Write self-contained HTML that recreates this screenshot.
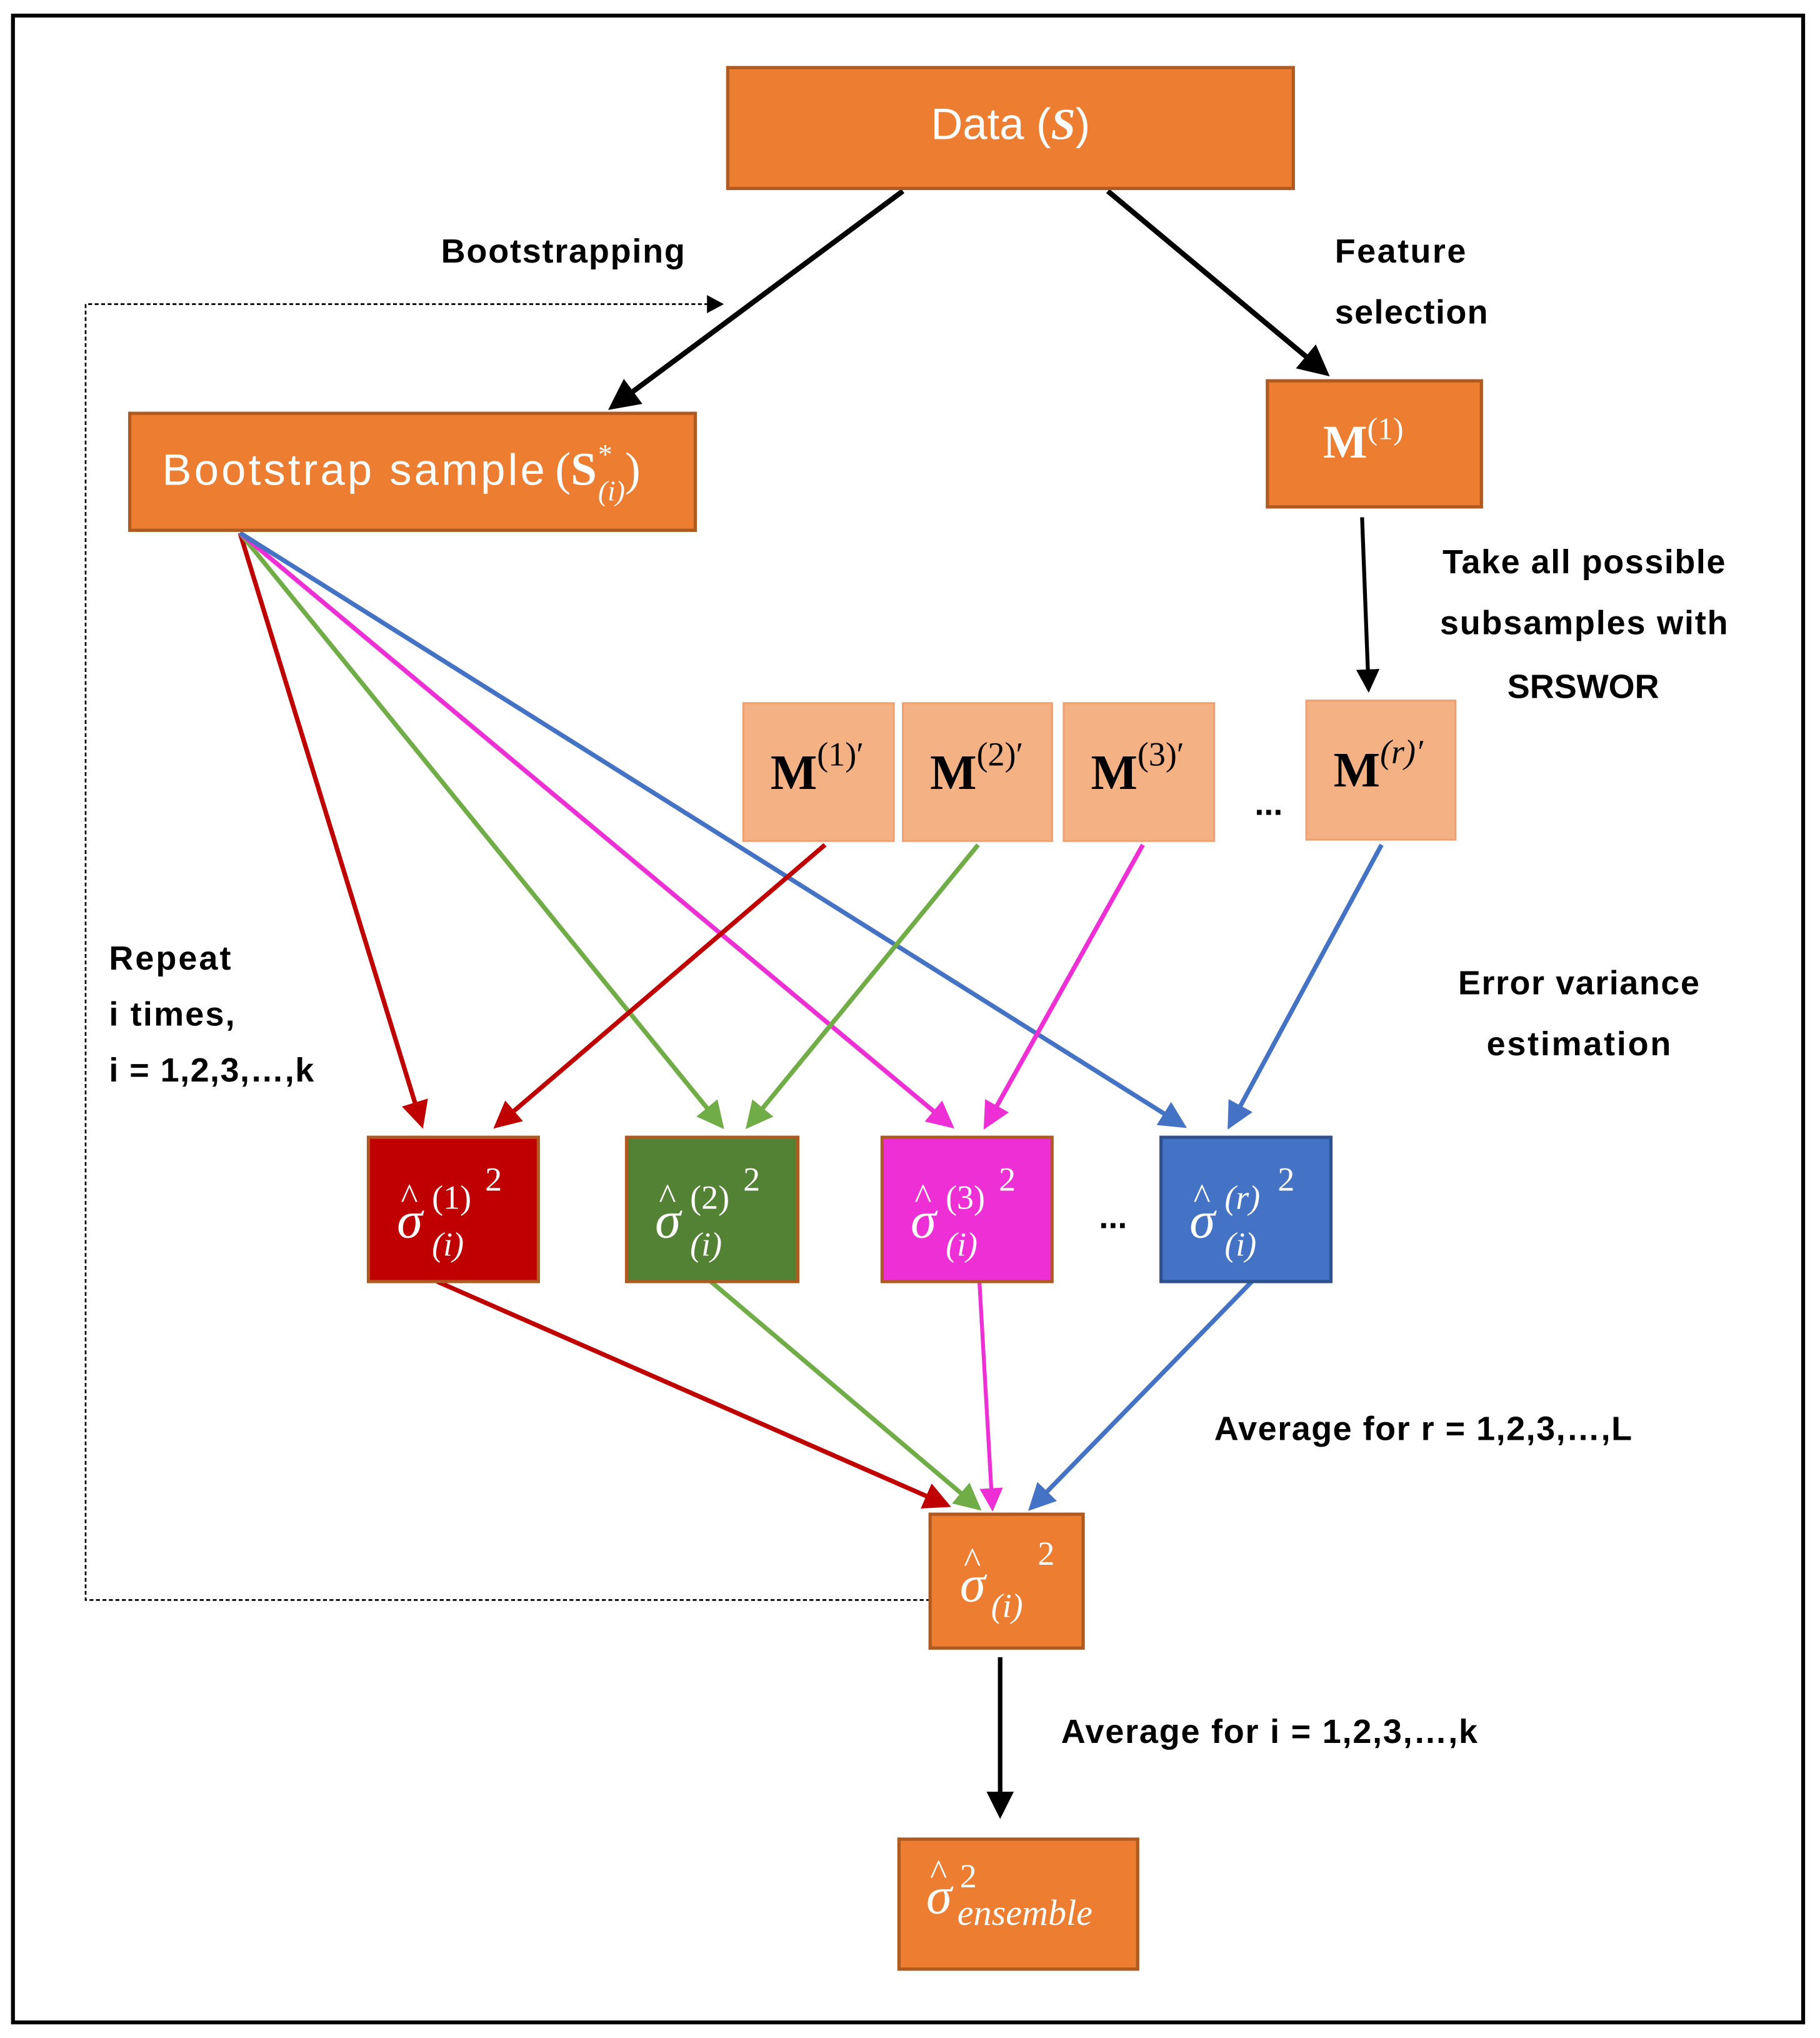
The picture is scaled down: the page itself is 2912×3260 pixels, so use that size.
<!DOCTYPE html>
<html><head><meta charset="utf-8"><style>
html,body{margin:0;padding:0;background:#fff}
svg{display:block}
.lb{font-family:"Liberation Sans",sans-serif;font-weight:bold;font-size:26px;fill:#000}
.w{fill:#fff}
.m{font-family:"Liberation Serif",serif}
</style></head><body>
<svg width="2912" height="3260" viewBox="0 0 1403 1568" preserveAspectRatio="none" xmlns="http://www.w3.org/2000/svg">
<defs>
<marker id="ak" markerWidth="6" markerHeight="6" refX="5" refY="3" orient="auto" markerUnits="strokeWidth"><path d="M0,0 L6,3 L0,6 z" fill="#000"/></marker>
<marker id="ar" markerWidth="6" markerHeight="6" refX="5" refY="3" orient="auto" markerUnits="strokeWidth"><path d="M0,0 L6,3 L0,6 z" fill="#C00000"/></marker>
<marker id="ag" markerWidth="6" markerHeight="6" refX="5" refY="3" orient="auto" markerUnits="strokeWidth"><path d="M0,0 L6,3 L0,6 z" fill="#70AD47"/></marker>
<marker id="am" markerWidth="6" markerHeight="6" refX="5" refY="3" orient="auto" markerUnits="strokeWidth"><path d="M0,0 L6,3 L0,6 z" fill="#EE2FD6"/></marker>
<marker id="ab" markerWidth="6" markerHeight="6" refX="5" refY="3" orient="auto" markerUnits="strokeWidth"><path d="M0,0 L6,3 L0,6 z" fill="#4472C4"/></marker>
</defs>
<rect x="10" y="12" width="1380" height="1544" fill="#fff" stroke="#000" stroke-width="3"/>

<path d="M717,1231 L66,1231 L66,234 L550,234" fill="none" stroke="#000" stroke-width="1.3" stroke-dasharray="3,2"/>
<path d="M545,227 L558,234 L545,241 z" fill="#000"/>

<line x1="696" y1="147" x2="472" y2="313" stroke="#000" stroke-width="4" marker-end="url(#ak)"/>
<line x1="854" y1="147" x2="1022" y2="287" stroke="#000" stroke-width="4" marker-end="url(#ak)"/>
<line x1="1050" y1="398" x2="1055" y2="530" stroke="#000" stroke-width="3" marker-end="url(#ak)"/>
<line x1="771" y1="1275" x2="771" y2="1396" stroke="#000" stroke-width="3.5" marker-end="url(#ak)"/>

<line x1="185" y1="410" x2="325" y2="865" stroke="#C00000" stroke-width="3.5" marker-end="url(#ar)"/>
<line x1="185" y1="410" x2="556" y2="866" stroke="#70AD47" stroke-width="3.5" marker-end="url(#ag)"/>
<line x1="185" y1="410" x2="733" y2="866" stroke="#EE2FD6" stroke-width="3.5" marker-end="url(#am)"/>
<line x1="185" y1="410" x2="912" y2="866" stroke="#4472C4" stroke-width="3.5" marker-end="url(#ab)"/>
<line x1="636" y1="650" x2="383" y2="866" stroke="#C00000" stroke-width="3.5" marker-end="url(#ar)"/>
<line x1="754" y1="650" x2="577" y2="866" stroke="#70AD47" stroke-width="3.5" marker-end="url(#ag)"/>
<line x1="881" y1="650" x2="760" y2="866" stroke="#EE2FD6" stroke-width="3.5" marker-end="url(#am)"/>
<line x1="1065" y1="650" x2="948" y2="866" stroke="#4472C4" stroke-width="3.5" marker-end="url(#ab)"/>
<line x1="337" y1="986" x2="730" y2="1158" stroke="#C00000" stroke-width="3.5" marker-end="url(#ar)"/>
<line x1="548" y1="986" x2="754" y2="1160" stroke="#70AD47" stroke-width="3.5" marker-end="url(#ag)"/>
<line x1="755" y1="986" x2="765" y2="1160" stroke="#EE2FD6" stroke-width="3" marker-end="url(#am)"/>
<line x1="965" y1="986" x2="795" y2="1160" stroke="#4472C4" stroke-width="3.5" marker-end="url(#ab)"/>

<rect x="561" y="52" width="436" height="93" fill="#ED7D31" stroke="#AE5A21" stroke-width="2.5"/>
<text x="779" y="107" text-anchor="middle" class="w" font-family="Liberation Sans,sans-serif" font-size="34">Data (<tspan class="m" font-style="italic" font-weight="bold">S</tspan>)</text>

<rect x="100" y="318" width="436" height="90" fill="#ED7D31" stroke="#AE5A21" stroke-width="2.5"/>
<text x="125" y="373" class="w" font-family="Liberation Sans,sans-serif" font-size="34" textLength="295">Bootstrap sample</text>
<text x="428" y="373" class="w m" font-size="36">(<tspan font-weight="bold">S</tspan><tspan font-size="22" dy="-16" font-style="italic">*</tspan><tspan font-size="22" dx="-10" dy="28" font-style="italic">(i)</tspan><tspan dy="-12">)</tspan></text>

<rect x="977" y="293" width="165" height="97" fill="#ED7D31" stroke="#AE5A21" stroke-width="2.5"/>
<text x="1020" y="352" class="w m" font-size="36" font-weight="bold">M<tspan font-size="24" font-weight="normal" dy="-14">(1)</tspan></text>

<g fill="#F4B183" stroke="#F0A070" stroke-width="1.5">
<rect x="573" y="541" width="116" height="106"/>
<rect x="696" y="541" width="115" height="106"/>
<rect x="820" y="541" width="116" height="106"/>
<rect x="1007" y="539" width="115" height="107"/>
</g>
<g class="m" font-size="38" fill="#000">
<text x="594" y="607"><tspan font-weight="bold">M</tspan><tspan font-size="26" dy="-18">(1)′</tspan></text>
<text x="717" y="607"><tspan font-weight="bold">M</tspan><tspan font-size="26" dy="-18">(2)′</tspan></text>
<text x="841" y="607"><tspan font-weight="bold">M</tspan><tspan font-size="26" dy="-18">(3)′</tspan></text>
<text x="1028" y="605"><tspan font-weight="bold">M</tspan><tspan font-size="26" dy="-18" font-style="italic">(r)′</tspan></text>
</g>
<text x="978" y="627" class="lb" font-size="20" text-anchor="middle">...</text>

<rect x="284" y="875" width="131" height="111" fill="#C00000" stroke="#AE5A21" stroke-width="2.5"/>
<rect x="483" y="875" width="132" height="111" fill="#548235" stroke="#AE5A21" stroke-width="2.5"/>
<rect x="680" y="875" width="131" height="111" fill="#EE2FD6" stroke="#AE5A21" stroke-width="2.5"/>
<rect x="895" y="875" width="131" height="111" fill="#4472C4" stroke="#2F528F" stroke-width="2.5"/>
<g class="m w" font-size="26">
<text x="306" y="952" font-size="40" font-style="italic">σ</text><text x="309" y="930" font-size="28">^</text>
<text x="333" y="930">(1)</text><text x="374" y="916">2</text><text x="333" y="966" font-style="italic">(i)</text>
<text x="505" y="952" font-size="40" font-style="italic">σ</text><text x="508" y="930" font-size="28">^</text>
<text x="532" y="930">(2)</text><text x="573" y="916">2</text><text x="532" y="966" font-style="italic">(i)</text>
<text x="702" y="952" font-size="40" font-style="italic">σ</text><text x="705" y="930" font-size="28">^</text>
<text x="729" y="930">(3)</text><text x="770" y="916">2</text><text x="729" y="966" font-style="italic">(i)</text>
<text x="917" y="952" font-size="40" font-style="italic">σ</text><text x="920" y="930" font-size="28">^</text>
<text x="944" y="930" font-style="italic">(r)</text><text x="985" y="916">2</text><text x="944" y="966" font-style="italic">(i)</text>
</g>
<text x="858" y="945" class="lb" font-size="20" text-anchor="middle">...</text>

<rect x="717" y="1165" width="118" height="103" fill="#ED7D31" stroke="#AE5A21" stroke-width="2.5"/>
<g class="m w" font-size="26">
<text x="740" y="1232" font-size="40" font-style="italic">σ</text><text x="743" y="1210" font-size="28">^</text>
<text x="764" y="1244" font-style="italic">(i)</text><text x="800" y="1204">2</text>
</g>

<rect x="693" y="1415" width="184" height="100" fill="#ED7D31" stroke="#AE5A21" stroke-width="2.5"/>
<g class="m w" font-size="26">
<text x="714" y="1472" font-size="40" font-style="italic">σ</text><text x="717" y="1450" font-size="28">^</text>
<text x="740" y="1452">2</text><text x="738" y="1481" font-style="italic" font-size="28">ensemble</text>
</g>

<text x="340" y="202" class="lb" textLength="188">Bootstrapping</text>
<text x="1029" y="202" class="lb" textLength="101">Feature</text>
<text x="1029" y="249" class="lb" textLength="118">selection</text>
<text x="1112" y="441" class="lb" textLength="218">Take all possible</text>
<text x="1110" y="488" class="lb" textLength="222">subsamples with</text>
<text x="1162" y="537" class="lb" textLength="117">SRSWOR</text>
<text x="84" y="746" class="lb" textLength="94">Repeat</text>
<text x="84" y="789" class="lb" textLength="97">i times,</text>
<text x="84" y="832" class="lb" textLength="158">i = 1,2,3,…,k</text>
<text x="1124" y="765" class="lb" textLength="186">Error variance</text>
<text x="1146" y="812" class="lb" textLength="142">estimation</text>
<text x="936" y="1108" class="lb" textLength="322">Average for r = 1,2,3,…,L</text>
<text x="818" y="1341" class="lb" textLength="321">Average for i = 1,2,3,…,k</text>
</svg>
</body></html>
